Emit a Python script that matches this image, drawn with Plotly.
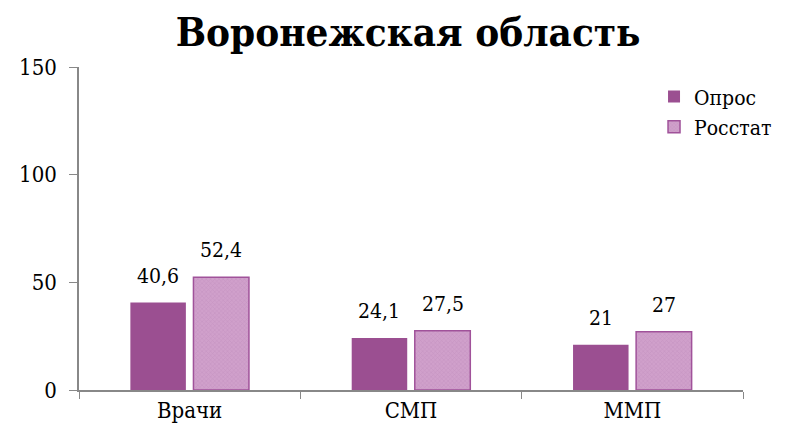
import plotly.graph_objects as go

categories = ["Врачи", "СМП", "ММП"]
opros = [40.6, 24.1, 21]
rosstat = [52.4, 27.5, 27]
opros_labels = ["40,6", "24,1", "21"]
rosstat_labels = ["52,4", "27,5", "27"]
y_ticks = [0, 50, 100, 150]

FONT = "DejaVu Serif Condensed, DejaVu Serif"
BARGAP = 0.43
fig = go.Figure()
fig.add_trace(go.Bar(
    name="Опрос", x=categories, y=opros,
    marker=dict(color="#9B4F91", line=dict(width=0)),
))
fig.add_trace(go.Bar(
    name="Росстат", x=categories, y=rosstat,
    marker=dict(color="#D0A0CB", line=dict(color="#A0529A", width=1.5),
                pattern=dict(shape="x", size=3, fgcolor="#BA85B5", solidity=0.3)),
))

slot = (1 - BARGAP) / 2
for i in range(len(categories)):
    fig.add_annotation(x=i - slot / 2, y=opros[i], text=opros_labels[i], showarrow=False,
                       yanchor="bottom", yshift=13, font=dict(size=21, color="black", family=FONT))
    fig.add_annotation(x=i + slot / 2, y=rosstat[i], text=rosstat_labels[i], showarrow=False,
                       yanchor="bottom", yshift=13, font=dict(size=21, color="black", family=FONT))

fig.update_layout(
    width=783, height=427,
    margin=dict(l=71, r=48, t=59, b=45),
    paper_bgcolor="white", plot_bgcolor="white",
    barmode="group", bargap=BARGAP, bargroupgap=0.12,
    font=dict(family=FONT, size=21, color="black"),
    title=dict(text="<b>Воронежская область</b>", x=0.511, xanchor="center", y=0.944, yanchor="middle",
               font=dict(size=40, family=FONT, color="black")),
    legend=dict(x=0.866, y=0.971, xanchor="left", yanchor="top",
                bgcolor="rgba(0,0,0,0)", font=dict(size=21, family=FONT), itemwidth=30, tracegroupgap=0),
    showlegend=True,
)
fig.update_xaxes(showline=True, linecolor="#888888", linewidth=1.5, ticks="outside", tickson="boundaries",
                 ticklen=7, tickcolor="#888888", showgrid=False, tickfont=dict(size=22))
fig.update_yaxes(range=[0, 150], tickvals=y_ticks, showline=True, linecolor="#888888", linewidth=1.5,
                 ticks="outside", ticklen=8, tickcolor="#888888", showgrid=False, zeroline=False,
                 tickfont=dict(size=22), ticklabelstandoff=8)
fig.write_html("out.html")
